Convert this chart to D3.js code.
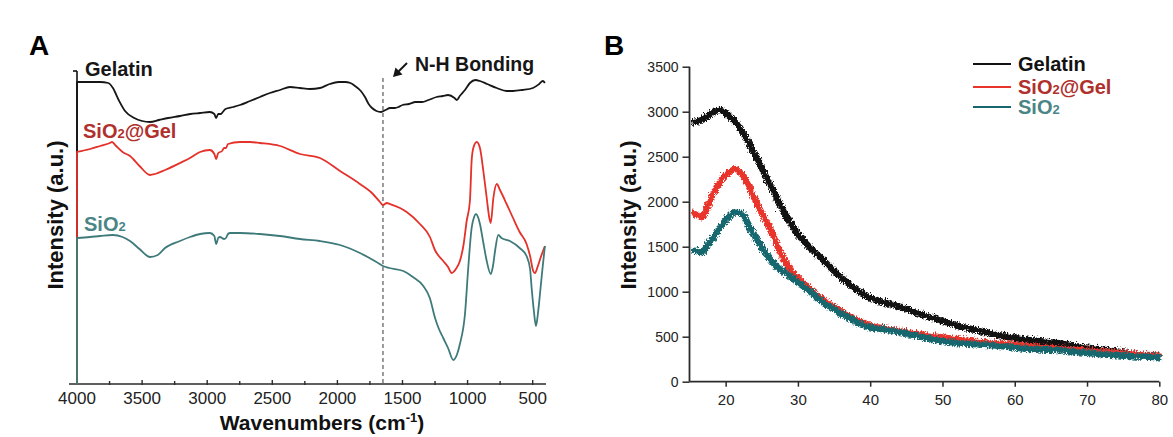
<!DOCTYPE html>
<html>
<head>
<meta charset="utf-8">
<script src="https://cdn.jsdelivr.net/npm/d3@7"></script>
<style>
  body { margin: 0; background: #fff; }
  svg { font-family: "Liberation Sans", Arial, sans-serif; }
</style>
</head>
<body>
<div id="chart"></div>
<script>
// --- Daten: FTIR (Panel A), [Wellenzahl, Intensität a.u.] ---
const ftirTicks = [4000, 3500, 3000, 2500, 2000, 1500, 1000, 500];
const ftirMinor = [3750, 3250, 2750, 2250, 1750, 1250, 750];
const nhBand = 1650;

const ftirGelatin = [
  [4000, 302], [3900, 302], [3823, 302], [3760, 301], [3724, 296], [3680, 284], [3631, 273],
  [3560, 266], [3500, 263], [3439, 262], [3370, 264], [3300, 266], [3209, 268], [3130, 270],
  [3055, 271], [2980, 272], [2945, 270], [2932, 266], [2915, 270], [2895, 270], [2880, 272],
  [2860, 275], [2800, 277], [2748, 279], [2671, 283], [2595, 287], [2518, 291], [2441, 294],
  [2364, 297], [2287, 296], [2210, 295], [2134, 296], [2060, 300], [1990, 302], [1942, 302],
  [1900, 301], [1865, 298], [1820, 293], [1788, 287], [1760, 280], [1734, 276], [1700, 273],
  [1665, 272], [1630, 274], [1596, 276], [1560, 276], [1530, 277], [1500, 279], [1450, 280],
  [1400, 282], [1350, 282], [1300, 284], [1238, 287], [1190, 288], [1150, 289], [1100, 286],
  [1083, 284], [1060, 288], [1020, 294], [982, 301], [940, 304], [905, 303], [850, 300],
  [776, 296], [700, 293], [651, 293], [580, 294], [498, 296], [450, 300], [422, 303], [406, 301]
];

const ftirSiO2Gel = [
  [4000, 232], [3900, 235], [3823, 238], [3747, 241], [3731, 242], [3700, 238], [3650, 232],
  [3593, 228], [3520, 218], [3439, 209], [3400, 210], [3324, 214], [3209, 221], [3132, 226],
  [3055, 232], [2979, 234], [2945, 230], [2932, 225], [2915, 231], [2886, 233], [2870, 236],
  [2856, 236], [2840, 240], [2748, 242], [2671, 242], [2595, 241], [2441, 238], [2287, 230],
  [2134, 226], [1980, 213], [1827, 200], [1727, 190], [1673, 182], [1650, 179], [1620, 181],
  [1596, 180], [1519, 176], [1468, 172], [1366, 160], [1289, 147], [1251, 134], [1187, 123],
  [1150, 117], [1122, 111], [1090, 115], [1059, 123], [1030, 140], [1007, 163], [982, 183],
  [969, 223], [956, 236], [930, 242], [905, 236], [879, 213], [853, 186], [833, 166],
  [822, 161], [802, 186], [776, 200], [751, 194], [700, 180], [651, 166], [600, 152],
  [547, 140], [520, 128], [496, 113], [483, 111], [460, 118], [440, 126], [406, 138]
];

const ftirSiO2 = [
  [4000, 146], [3900, 147], [3823, 148], [3724, 149], [3650, 147], [3593, 143], [3520, 135],
  [3439, 127], [3380, 129], [3324, 136], [3209, 143], [3132, 147], [3055, 150], [2979, 151],
  [2945, 148], [2932, 140], [2915, 146], [2902, 147], [2870, 145], [2856, 146], [2840, 150],
  [2825, 151], [2748, 151], [2595, 150], [2441, 148], [2287, 145], [2134, 143], [1980, 139],
  [1827, 131], [1700, 122], [1650, 118], [1600, 116], [1494, 113], [1420, 107], [1340, 98],
  [1290, 86], [1250, 66], [1220, 55], [1187, 46], [1150, 36], [1110, 24], [1080, 30],
  [1059, 40], [1020, 70], [995, 116], [969, 156], [950, 167], [936, 170], [920, 167],
  [905, 160], [880, 142], [853, 123], [822, 110], [805, 118], [789, 133], [764, 149],
  [740, 146], [675, 143], [600, 136], [547, 128], [520, 115], [508, 96], [490, 72],
  [475, 58], [460, 70], [444, 90], [425, 115], [406, 138]
];

// --- Daten: XRD (Panel B), [2θ, Intensität] ---
const xrdXTicks = [20, 30, 40, 50, 60, 70, 80];
const xrdXMinor = [25, 35, 45, 55, 65, 75];
const xrdYTicks = [0, 500, 1000, 1500, 2000, 2500, 3000, 3500];
const xrdYMinor = [250, 750, 1250, 1750, 2250, 2750, 3250];

const xrdGelatin = [
  [15, 2900], [16, 2920], [17, 2960], [18, 3020], [19, 3040], [20, 2990], [21, 2910],
  [22, 2800], [23, 2660], [24, 2510], [25, 2350], [26, 2190], [27, 2030], [28, 1875],
  [29, 1745], [30, 1635], [31, 1545], [32, 1465], [33, 1390], [34, 1310], [35, 1235],
  [36, 1160], [37, 1095], [38, 1035], [39, 985], [40, 945], [42, 895], [44, 850],
  [46, 790], [48, 738], [50, 690], [52, 640], [54, 600], [56, 565], [58, 530], [60, 505],
  [62, 482], [64, 465], [66, 447], [68, 420], [70, 398], [72, 375], [74, 355], [76, 330],
  [78, 315], [80, 300]
];

const xrdSiO2Gel = [
  [15, 1900], [16, 1870], [16.5, 1850], [17, 1930], [18, 2110], [19, 2250], [20, 2340],
  [21, 2385], [22, 2320], [23, 2180], [24, 2010], [25, 1850], [26, 1700], [27, 1510],
  [28, 1350], [29, 1235], [30, 1150], [31, 1080], [32, 1010], [33, 950], [34, 890],
  [35, 840], [36, 790], [37, 740], [38, 700], [39, 670], [40, 640], [42, 610], [44, 580],
  [46, 555], [48, 530], [50, 510], [52, 490], [54, 470], [56, 455], [58, 440], [60, 430],
  [62, 415], [64, 400], [66, 390], [68, 380], [70, 365], [72, 355], [74, 340], [76, 330],
  [78, 320], [80, 310]
];

const xrdSiO2 = [
  [15, 1480], [16, 1470], [16.5, 1460], [17, 1520], [18, 1620], [19, 1740], [20, 1840],
  [21, 1905], [22, 1880], [23, 1740], [24, 1610], [25, 1480], [26, 1370], [27, 1285],
  [28, 1230], [29, 1170], [30, 1110], [31, 1050], [32, 985], [33, 915], [34, 860],
  [35, 810], [36, 765], [37, 720], [38, 675], [39, 640], [40, 620], [42, 600], [44, 570],
  [46, 535], [48, 500], [50, 470], [52, 450], [54, 440], [56, 430], [58, 415], [60, 400],
  [62, 385], [64, 378], [66, 372], [68, 355], [70, 340], [72, 325], [74, 315], [76, 305],
  [78, 300], [80, 295]
];

const W = 1173, H = 437;
const axisColor = "#2b2b2b";

const svg = d3.select("#chart").append("svg")
  .attr("width", W)
  .attr("height", H);

// Rauschen für die XRD-Kurven (nur Darstellung)
const defs = svg.append("defs");
const flt = defs.append("filter")
  .attr("id", "noisy")
  .attr("filterUnits", "userSpaceOnUse")
  .attr("color-interpolation-filters", "sRGB")
  .attr("x", 660).attr("y", 40).attr("width", 520).attr("height", 360);
flt.append("feTurbulence")
  .attr("type", "turbulence")
  .attr("baseFrequency", "0.9 0.35")
  .attr("numOctaves", 1)
  .attr("seed", 4)
  .attr("result", "n");
flt.append("feDisplacementMap")
  .attr("in", "SourceGraphic")
  .attr("in2", "n")
  .attr("scale", 6)
  .attr("xChannelSelector", "R")
  .attr("yChannelSelector", "G");

// ================= Panel A =================
const xA = d3.scaleLinear().domain([4000, 400]).range([77, 545.7]);
const yA = d3.scaleLinear().domain([0, 312]).range([384, 72]);

svg.append("text")
  .attr("x", 29).attr("y", 55)
  .attr("font-size", 28).attr("font-weight", "bold")
  .text("A");

// y-Achse (nur Linie mit oberem Tick)
svg.append("line")
  .attr("x1", xA(4000)).attr("x2", xA(4000))
  .attr("y1", 71).attr("y2", 384)
  .attr("stroke", "#111").attr("stroke-width", 1.6);
svg.append("line")
  .attr("x1", xA(4000) - 4).attr("x2", xA(4000))
  .attr("y1", 71).attr("y2", 71)
  .attr("stroke", "#111").attr("stroke-width", 1.6);

// x-Achse
const gxA = svg.append("g").attr("transform", "translate(0,384)");
gxA.append("line")
  .attr("x1", 69).attr("x2", 546)
  .attr("stroke", axisColor).attr("stroke-width", 1.6);
gxA.selectAll(".minor")
  .data(ftirMinor)
  .enter().append("line")
  .attr("x1", d => xA(d)).attr("x2", d => xA(d))
  .attr("y1", -3).attr("y2", 1)
  .attr("stroke", axisColor).attr("stroke-width", 1.4);
gxA.selectAll(".major")
  .data(ftirTicks.slice(1))
  .enter().append("line")
  .attr("x1", d => xA(d)).attr("x2", d => xA(d))
  .attr("y1", -4).attr("y2", 1)
  .attr("stroke", axisColor).attr("stroke-width", 1.4);
gxA.selectAll(".lbl")
  .data(ftirTicks)
  .enter().append("text")
  .attr("x", d => xA(d)).attr("y", 20)
  .attr("text-anchor", "middle")
  .attr("font-size", 17).attr("fill", "#222")
  .text(d => d);

const xTitleA = svg.append("text")
  .attr("x", 322).attr("y", 430)
  .attr("text-anchor", "middle")
  .attr("font-size", 21).attr("font-weight", "bold").attr("fill", "#111");
xTitleA.append("tspan").text("Wavenumbers (cm");
xTitleA.append("tspan").attr("font-size", 13).attr("dy", -8).text("-1");
xTitleA.append("tspan").attr("dy", 8).text(")");

svg.append("text")
  .attr("transform", "translate(63,215) rotate(-90)")
  .attr("text-anchor", "middle")
  .attr("font-size", 22).attr("font-weight", "bold").attr("fill", "#111")
  .text("Intensity (a.u.)");

// N-H Linie
svg.append("line")
  .attr("x1", xA(nhBand)).attr("x2", xA(nhBand))
  .attr("y1", 78).attr("y2", 384)
  .attr("stroke", "#7a7a7a").attr("stroke-width", 1.5)
  .attr("stroke-dasharray", "4,3");

const lineA = d3.line()
  .x(d => xA(d[0]))
  .y(d => yA(d[1]))
  .curve(d3.curveMonotoneX);

const seriesA = [
  { data: ftirGelatin, color: "#161616" },
  { data: ftirSiO2Gel, color: "#e4312a" },
  { data: ftirSiO2, color: "#3f7a7a" }
];

seriesA.forEach(s => {
  // Kurve beginnt an der Achse (senkrechter Anstieg bei 4000)
  const start = `M${xA(s.data[0][0])},${yA(0)}`;
  svg.append("path")
    .attr("d", start + lineA(s.data).replace(/^M/, "L"))
    .attr("fill", "none")
    .attr("stroke", s.color)
    .attr("stroke-width", 1.8)
    .attr("stroke-linejoin", "round");
});

// Beschriftungen Panel A
svg.append("text")
  .attr("x", 85).attr("y", 76)
  .attr("font-size", 20).attr("font-weight", "bold").attr("fill", "#161616")
  .text("Gelatin");

const lblGel = svg.append("text")
  .attr("x", 83).attr("y", 138)
  .attr("font-size", 20).attr("font-weight", "bold").attr("fill", "#b0302d");
lblGel.append("tspan").text("SiO");
lblGel.append("tspan").attr("font-size", 13).text("2");
lblGel.append("tspan").text("@Gel");

const lblSi = svg.append("text")
  .attr("x", 84).attr("y", 231)
  .attr("font-size", 20).attr("font-weight", "bold").attr("fill", "#4a8585");
lblSi.append("tspan").text("SiO");
lblSi.append("tspan").attr("font-size", 13).text("2");

svg.append("text")
  .attr("x", 415).attr("y", 71)
  .attr("font-size", 19.5).attr("font-weight", "bold").attr("fill", "#161616")
  .text("N-H Bonding");

// Pfeil
svg.append("line")
  .attr("x1", 407).attr("y1", 63)
  .attr("x2", 398).attr("y2", 72)
  .attr("stroke", "#161616").attr("stroke-width", 2);
svg.append("path")
  .attr("d", "M393,77 L395.5,67.5 L402.5,74.5 Z")
  .attr("fill", "#161616");

// ================= Panel B =================
const xB = d3.scaleLinear().domain([15, 80]).range([689.5, 1159.3]);
const yB = d3.scaleLinear().domain([0, 3500]).range([381.7, 66.7]);

svg.append("text")
  .attr("x", 604).attr("y", 55)
  .attr("font-size", 28).attr("font-weight", "bold")
  .text("B");

const lineB = d3.line()
  .x(d => xB(d[0]))
  .y(d => yB(d[1]))
  .curve(d3.curveMonotoneX);

const seriesB = [
  { name: "Gelatin", data: xrdGelatin, color: "#121212", text: "#121212" },
  { name: "SiO2@Gel", data: xrdSiO2Gel, color: "#e8342b", text: "#b0302d" },
  { name: "SiO2", data: xrdSiO2, color: "#17686e", text: "#4a8585" }
];

const curves = svg.append("g").attr("filter", "url(#noisy)");
seriesB.forEach(s => {
  curves.append("path")
    .attr("d", lineB(s.data))
    .attr("fill", "none")
    .attr("stroke", s.color)
    .attr("stroke-width", 6.5)
    .attr("stroke-linejoin", "round");
});

// Achsen Panel B
const gxB = svg.append("g").attr("transform", `translate(0,${yB(0)})`);
gxB.call(d3.axisBottom(xB).tickValues(xrdXMinor).tickSize(3).tickFormat(""));
gxB.call(d3.axisBottom(xB).tickValues(xrdXTicks).tickSize(5).tickPadding(8).tickFormat(d3.format("d")));
gxB.selectAll(".domain").remove();
gxB.append("line")
  .attr("x1", xB(15)).attr("x2", xB(80))
  .attr("stroke", axisColor).attr("stroke-width", 1.8);
gxB.selectAll(".tick line").attr("stroke", axisColor).attr("stroke-width", 1.5);
gxB.selectAll(".tick text")
  .attr("font-family", "Liberation Sans, Arial, sans-serif")
  .attr("font-size", 15).attr("fill", "#222");

const gyB = svg.append("g").attr("transform", `translate(${xB(15)},0)`);
gyB.call(d3.axisLeft(yB).tickValues(xrdYMinor).tickSize(4).tickFormat(""));
gyB.call(d3.axisLeft(yB).tickValues(xrdYTicks).tickSize(7).tickPadding(4).tickFormat(d3.format("d")));
gyB.selectAll(".domain").remove();
gyB.append("line")
  .attr("y1", yB(0)).attr("y2", yB(3500))
  .attr("stroke", axisColor).attr("stroke-width", 1.8);
gyB.selectAll(".tick line").attr("stroke", axisColor).attr("stroke-width", 1.5);
gyB.selectAll(".tick text")
  .attr("font-family", "Liberation Sans, Arial, sans-serif")
  .attr("font-size", 14).attr("fill", "#222");

svg.append("text")
  .attr("transform", "translate(636,215) rotate(-90)")
  .attr("text-anchor", "middle")
  .attr("font-size", 22).attr("font-weight", "bold").attr("fill", "#111")
  .text("Intensity (a.u.)");

// Legende
const legendY = [64, 87, 107];
seriesB.forEach((s, i) => {
  svg.append("line")
    .attr("x1", 973).attr("x2", 1011)
    .attr("y1", legendY[i]).attr("y2", legendY[i])
    .attr("stroke", s.color).attr("stroke-width", 2);
  const t = svg.append("text")
    .attr("x", 1018).attr("y", legendY[i] + 7)
    .attr("font-size", 20).attr("font-weight", "bold").attr("fill", s.text);
  if (s.name === "Gelatin") {
    t.text("Gelatin");
  } else {
    t.append("tspan").text("SiO");
    t.append("tspan").attr("font-size", 13).text("2");
    if (s.name === "SiO2@Gel") t.append("tspan").text("@Gel");
  }
});
</script>
</body>
</html>
